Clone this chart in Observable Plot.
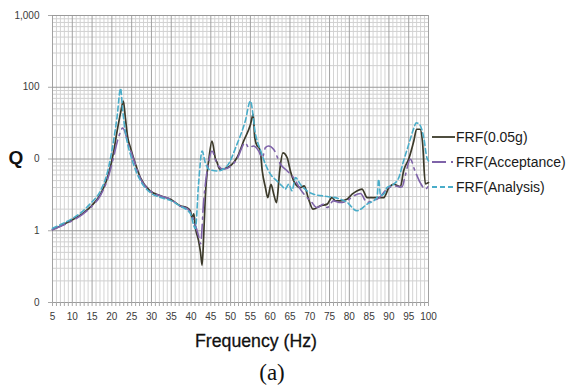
<!DOCTYPE html>
<html><head><meta charset="utf-8">
<script src="https://cdn.jsdelivr.net/npm/d3@7"></script>
<script src="https://cdn.jsdelivr.net/npm/@observablehq/plot@0.6"></script>
<style>body{margin:0;background:#fff} #chart svg{display:block}</style>
</head><body><div id="chart"></div>
<script>
// ---- tick labels ----
const xTicks = [5,10,15,20,25,30,35,40,45,50,55,60,65,70,75,80,85,90,95,100];
const yTicks = [0.1, 1, 10, 100, 1000];
const yTickLabels = ["0", "1", "0", "100", "1,000"];
const seriesNames = ["FRF(0.05g)", "FRF(Acceptance)", "FRF(Analysis)"];
const seriesColors = ["#3c3a2a", "#7f63a9", "#4aadc9"];
const seriesDash = [null, "14,5,2,5", "5,3"];

// ---- FRF(0.05g) ----
const freq005 = [5,7.5,10,12.5,14.6,17.1,18.8,20.5,21.3,22.2,22.9,23.4,24.0,24.7,26.0,27.2,29.7,32.3,34.8,37.3,39.0,39.8,40.3,40.7,41.1,41.9,42.4,42.8,43.2,43.6,44.5,45.3,46.2,46.6,47.0,47.4,49.9,51.6,53.3,55.0,55.7,56.1,56.7,57.1,57.5,58.0,58.8,59.4,60.2,60.9,61.6,62.4,63.2,64.3,65.1,66.4,67.6,68.6,69.7,70.8,72.7,74.4,75.6,76.5,77.7,79.4,80.7,81.9,83.2,84.5,85.7,87.4,88.7,89.9,91.2,92.9,93.7,95.0,96.3,97.0,97.9,98.5,99.2,100];
const q005 = [1.04,1.2,1.42,1.72,2.15,3.2,5.3,13,24,44,64,38,20,14.4,8.4,5.5,3.6,3.06,2.75,2.22,2.1,1.9,1.53,1.72,1.11,0.73,0.5,0.33,0.85,2.9,9.9,17.8,9.9,8.9,7.6,7.2,8.0,10.4,17.8,30,42,20,15.2,14.5,12.9,6.8,4.0,2.9,4.45,3.23,2.47,6.8,12.2,10.4,6.8,4.45,4.0,4.22,2.75,2.0,2.22,2.35,2.9,2.61,2.61,2.75,3.23,3.59,3.8,2.9,2.9,2.9,2.9,3.9,4.45,4.1,6.8,10,18,26,26,17,4.5,4.7];

// ---- FRF(Acceptance) ----
const freqAcc = [5,7.5,10,12.5,14.6,17.1,18.8,20.5,21.3,22.2,22.7,23.4,24.0,24.7,26.0,27.2,29.7,32.3,34.8,37.3,39.0,40.3,41.1,41.9,42.4,43.2,44.5,45.3,46.6,48.3,51.6,53.7,54.6,55.8,57.1,58.0,58.8,59.6,60.9,62.6,64.3,65.9,67.6,68.9,70.2,71.8,73.5,74.4,76.0,77.7,79.4,81.1,82.8,84.5,86.1,87.0,89.5,91.2,93.3,94.1,95.4,96.6,97.9,99.2,100];
const qAcc = [1.03,1.18,1.38,1.68,2.1,3.1,5.0,11,17,24,27,23,17,13.2,8.2,5.4,3.6,3.05,2.75,2.2,2.05,1.6,1.2,0.85,0.66,2.61,9.4,12.9,8.5,7.2,10,16.8,14.4,15.2,12.9,10.4,14.4,15.2,13.6,8.45,6.8,5.5,3.8,3.06,2.61,2.11,2.35,2.11,2.61,2.47,2.61,3.06,3.3,2.47,2.7,2.75,3.8,4.22,4.08,5.8,9.9,6.8,4.69,3.8,4.22];

// ---- FRF(Analysis) ----
const freqAna = [5,7.5,10,12.5,14.6,17.1,18.8,20.5,21.3,22.2,22.7,23.4,24.0,24.7,26.0,27.2,29.7,32.3,34.8,37.3,39.8,41.1,41.9,42.8,43.6,44.5,46.6,49.1,51.6,53.7,55.0,56.3,57.5,58.8,60.1,61.7,63.0,63.8,64.7,65.5,66.4,67.6,69.3,71.0,74.4,76.9,79.4,81.9,84.5,87.0,87.4,87.9,88.7,89.5,91.2,92.5,93.7,95.0,96.3,96.9,97.8,98.8,99.6,100];
const qAna = [1.08,1.25,1.48,1.85,2.4,3.6,6.3,19,38,96,50,24,16,11.5,7.0,5.0,3.4,2.9,2.65,2.2,1.75,1.07,4.5,12.9,8.9,7.2,6.8,8.0,16,33.7,64,22,13.5,8.45,6.1,4.95,4.2,3.8,4.45,3.6,5.5,4.45,3.6,3.23,3.0,2.85,2.5,1.9,2.35,2.9,5.2,3.1,3.23,4.0,4.45,5.5,9.4,16,27,32,30,19.8,10.4,9.4];

const seriesFreq = [freq005, freqAcc, freqAna];
const seriesQ = [q005, qAcc, qAna];
const rows = seriesNames.map((name, s) => seriesFreq[s].map((f, i) => ({series: name, f, q: seriesQ[s][i]})));

// gridline positions
const xMinor = d3.range(5, 101, 1).filter(d => d % 5 !== 0);
const yMinor = [];
for (const dec of [0.1, 1, 10, 100]) for (let k = 2; k <= 9; k++) yMinor.push(+(k * dec).toPrecision(3));

const font = "'Liberation Sans', Arial, sans-serif";

const lineMarks = rows.map((data, s) => Plot.line(data, {
  x: "f", y: "q", stroke: seriesColors[s], strokeWidth: s === 0 ? 1.7 : 1.6,
  strokeDasharray: seriesDash[s] || undefined, curve: "monotone-x"
}));

const chart = Plot.plot({
  width: 568, height: 388,
  marginLeft: 52, marginRight: 140, marginTop: 15, marginBottom: 86,
  style: {fontFamily: font, fontSize: "10px", color: "#3a3a3a", background: "#fff"},
  x: {domain: [5, 100]},
  y: {type: "log", domain: [0.1, 1000]},
  marks: [
    Plot.ruleX(xMinor, {stroke: "#d4d4d4", strokeWidth: 1}),
    Plot.ruleY(yMinor, {stroke: "#d0d0d0", strokeWidth: 1}),
    Plot.ruleX(xTicks, {stroke: "#a2a2a2", strokeWidth: 1}),
    Plot.ruleY(yTicks, {stroke: "#9a9a9a", strokeWidth: 1}),
    Plot.axisX(d3.range(5, 101, 1), {tickSize: 4, tickFormat: () => "", stroke: "#a8a8a8", label: null}),
    Plot.axisX(xTicks, {tickSize: 0, tickPadding: 10, label: null, fontSize: 10}),
    Plot.axisY(yTicks, {tickSize: 4, tickPadding: 9, stroke: "#a8a8a8", label: null, fontSize: 10,
      tickFormat: d => yTickLabels[yTicks.indexOf(d)]}),
    ...lineMarks
  ]
});

const svg = d3.select(chart);
// axis titles and caption
svg.append("text").attr("x", 16).attr("y", 164).attr("text-anchor", "middle")
  .attr("font-family", font).attr("font-size", 19).attr("font-weight", "bold").attr("fill", "#111").text("Q");
svg.append("text").attr("x", 256).attr("y", 347).attr("text-anchor", "middle")
  .attr("font-family", font).attr("font-size", 19)
  .attr("textLength", 122).attr("lengthAdjust", "spacingAndGlyphs")
  .attr("fill", "#111").attr("stroke", "#111").attr("stroke-width", 0.3).text("Frequency (Hz)");
svg.append("text").attr("x", 272).attr("y", 380).attr("text-anchor", "middle")
  .attr("font-family", "'Liberation Serif', 'Times New Roman', serif").attr("font-size", 23)
  .attr("fill", "#111").text("(a)");

// legend
const lg = svg.append("g").attr("text-anchor", "start");
seriesNames.forEach((name, i) => {
  const y = 137 + i * 25;
  lg.append("line").attr("x1", 432).attr("x2", 455).attr("y1", y).attr("y2", y)
    .attr("stroke", seriesColors[i]).attr("stroke-width", 1.8)
    .attr("stroke-dasharray", seriesDash[i]);
  lg.append("text").attr("x", 456).attr("y", y + 5).attr("text-anchor", "start")
    .attr("font-family", font).attr("font-size", 14)
    .attr("fill", "#1a1a1a").text(name);
});

document.getElementById("chart").appendChild(chart);
</script>
</body></html>
